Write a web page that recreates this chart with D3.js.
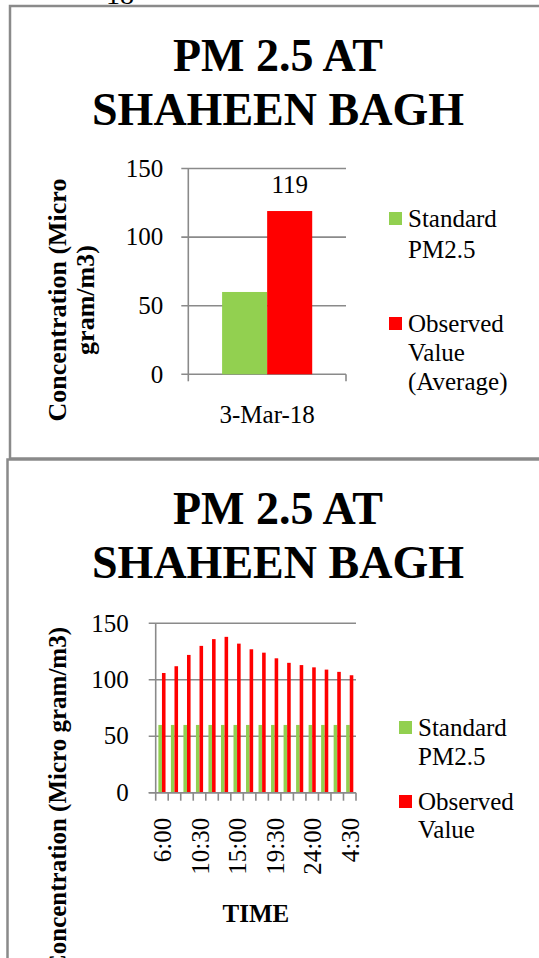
<!DOCTYPE html>
<html>
<head>
<meta charset="utf-8">
<script src="https://cdn.jsdelivr.net/npm/d3@7"></script>
<style>
  html, body { margin: 0; padding: 0; background: #fff; }
  svg { display: block; }
  text { font-family: "Liberation Serif", "Times New Roman", serif; fill: #000; }
</style>
</head>
<body>
<svg id="chart" width="539" height="958"></svg>
<script>
// ---------- data ----------
const titleLines = ["PM 2.5 AT", "SHAHEEN BAGH"];
const seriesNames = ["Standard", "Observed"];
const seriesColors = ["#92D050", "#FF0000"];
const yTicks = [0, 50, 100, 150];

// chart 1
const dateCategories = ["3-Mar-18"];
const dateStandard = [60];
const dateObserved = [119];
const dateObservedLabel = ["119"];
const legend1Standard = ["Standard", "PM2.5"];
const legend1Observed = ["Observed", "Value", "(Average)"];
const yTitle1 = ["Concentration (Micro", "gram/m3)"];

// chart 2
const timeCategories = ["6:00", "7:30", "9:00", "10:30", "12:00", "13:30", "15:00", "16:30",
                        "18:00", "19:30", "21:00", "22:30", "24:00", "1:30", "3:00", "4:30"];
const timeStandard = [60, 60, 60, 60, 60, 60, 60, 60, 60, 60, 60, 60, 60, 60, 60, 60];
const timeObserved = [106, 112, 122, 130, 136, 138, 132, 127, 124, 119, 115, 113, 111, 109, 107, 104];
const timeTickLabels = ["6:00", "10:30", "15:00", "19:30", "24:00", "4:30"];
const legend2Standard = ["Standard", "PM2.5"];
const legend2Observed = ["Observed", "Value"];
const yTitle2 = "Concentration (Micro gram/m3)";
const xTitle2 = "TIME";
const topFragment = "18";

// ---------- drawing ----------
const svg = d3.select("#chart");
const GRAY = "#8a8a8a";
const FS = 25;

// fragment of page text at very top (cut off, as in the source)
svg.append("text").attr("x", 106).attr("y", 4).style("font-size", "28px").text(topFragment);

// chart frames
svg.append("rect").attr("x", 10).attr("y", 6).attr("width", 560).attr("height", 452.5)
  .attr("fill", "none").attr("stroke", GRAY).attr("stroke-width", 2.5);
svg.append("rect").attr("x", 7.5).attr("y", 459.5).attr("width", 560).attr("height", 600)
  .attr("fill", "#fff").attr("stroke", GRAY).attr("stroke-width", 2.5);

function drawTitle(g, cx, y1, y2) {
  const t = g.append("text").attr("text-anchor", "middle")
    .style("font-size", "46px").style("font-weight", "bold");
  t.append("tspan").attr("x", cx).attr("y", y1).text(titleLines[0]);
  t.append("tspan").attr("x", cx).attr("y", y2).text(titleLines[1]);
}

function drawLegend(g, x, items) {
  items.forEach(it => {
    g.append("rect").attr("x", x).attr("y", it.y - 15).attr("width", 13).attr("height", 13)
      .attr("fill", it.color);
    const t = g.append("text").style("font-size", FS + "px");
    it.lines.forEach((ln, i) => {
      t.append("tspan").attr("x", x + 19).attr("y", it.y + i * it.lh).text(ln);
    });
  });
}

function drawYAxis(g, y, x0, x1, labelGap) {
  g.append("g").selectAll("line").data(yTicks).join("line")
    .attr("x1", x0 - 7).attr("x2", x1)
    .attr("y1", d => y(d)).attr("y2", d => y(d))
    .attr("stroke", GRAY).attr("stroke-width", 1.6);
  g.append("line").attr("x1", x0).attr("x2", x0)
    .attr("y1", y(0)).attr("y2", y(yTicks[yTicks.length - 1]))
    .attr("stroke", GRAY).attr("stroke-width", 1.6);
  g.append("g").selectAll("text").data(yTicks).join("text")
    .attr("x", x0 - labelGap).attr("y", d => y(d)).attr("dy", "0.33em")
    .attr("text-anchor", "end").style("font-size", FS + "px").text(d => d);
}

function drawXTicks(g, n, x0, x1, yBase, len) {
  const xl = d3.scaleLinear().domain([0, n]).range([x0, x1]);
  g.append("g").selectAll("line").data(d3.range(n + 1)).join("line")
    .attr("x1", d => xl(d)).attr("x2", d => xl(d))
    .attr("y1", yBase).attr("y2", yBase + len)
    .attr("stroke", GRAY).attr("stroke-width", 1.6);
}

// ===== Chart 1 =====
(function () {
  const g = svg.append("g");
  drawTitle(g, 278, 71, 125);
  const y = d3.scaleLinear().domain([0, 150]).range([374.3, 168.5]);
  const x0 = d3.scaleBand().domain(dateCategories).range([188.3, 346]);
  const x1 = d3.scaleBand().domain(seriesNames).range([0, x0.bandwidth()])
    .paddingInner(0).paddingOuter(0.75);

  drawYAxis(g, y, 188.3, 346, 25);
  drawXTicks(g, dateCategories.length, 188.3, 346, y(0), 7);

  const rows = dateCategories.map((c, i) => ({ c, vals: [dateStandard[i], dateObserved[i]] }));
  const grp = g.append("g").selectAll("g").data(rows).join("g")
    .attr("transform", d => `translate(${x0(d.c)},0)`);
  grp.selectAll("rect").data(d => d.vals.map((v, k) => ({ k, v }))).join("rect")
    .attr("x", d => x1(seriesNames[d.k])).attr("width", x1.bandwidth())
    .attr("y", d => y(d.v)).attr("height", d => y(0) - y(d.v))
    .attr("fill", d => seriesColors[d.k]);

  g.append("g").selectAll("text").data(dateCategories).join("text")
    .attr("x", (c) => x0(c) + x1(seriesNames[1]) + x1.bandwidth() / 2)
    .attr("y", (c, i) => y(dateObserved[i]) - 18)
    .attr("text-anchor", "middle").style("font-size", FS + "px")
    .text((c, i) => dateObservedLabel[i]);

  g.append("g").selectAll("text").data(dateCategories).join("text")
    .attr("x", c => x0(c) + x0.bandwidth() / 2).attr("y", y(0) + 49)
    .attr("text-anchor", "middle").style("font-size", FS + "px").text(c => c);

  const yt = g.append("text").attr("transform", "translate(66,300) rotate(-90)")
    .attr("text-anchor", "middle").style("font-size", "26px").style("font-weight", "bold");
  yt.append("tspan").attr("x", 0).attr("y", 0).text(yTitle1[0]);
  yt.append("tspan").attr("x", 0).attr("y", 28).text(yTitle1[1]);

  drawLegend(g, 389, [
    { color: seriesColors[0], lines: legend1Standard, y: 227, lh: 31 },
    { color: seriesColors[1], lines: legend1Observed, y: 332, lh: 29 }
  ]);
})();

// ===== Chart 2 =====
(function () {
  const g = svg.append("g");
  drawTitle(g, 278, 524, 578);
  const y = d3.scaleLinear().domain([0, 150]).range([792.7, 623.3]);
  const x0 = d3.scaleBand().domain(timeCategories).range([155.7, 356]);
  const x1 = d3.scaleBand().domain(seriesNames).range([0, x0.bandwidth()])
    .paddingInner(0).paddingOuter(0.75);

  drawYAxis(g, y, 155.7, 356, 27);

  const rows = timeCategories.map((c, i) => ({ c, vals: [timeStandard[i], timeObserved[i]] }));
  const grp = g.append("g").selectAll("g").data(rows).join("g")
    .attr("transform", d => `translate(${x0(d.c)},0)`);
  grp.selectAll("rect").data(d => d.vals.map((v, k) => ({ k, v }))).join("rect")
    .attr("x", d => x1(seriesNames[d.k])).attr("width", x1.bandwidth())
    .attr("y", d => y(d.v)).attr("height", d => y(0) - y(d.v))
    .attr("fill", d => seriesColors[d.k]);

  g.append("line").attr("x1", 155.7 - 7).attr("x2", 356).attr("y1", y(0)).attr("y2", y(0))
    .attr("stroke", GRAY).attr("stroke-width", 1.6);
  drawXTicks(g, timeCategories.length, 155.7, 356, y(0), 8);

  g.append("g").selectAll("text").data(timeTickLabels).join("text")
    .attr("transform", c => `translate(${x0(c) + x0.bandwidth() / 2 + 9},${y(0) + 25}) rotate(-90)`)
    .attr("text-anchor", "end").style("font-size", FS + "px").text(c => c);

  g.append("text").attr("x", (155.7 + 356) / 2).attr("y", 922)
    .attr("text-anchor", "middle").style("font-size", "25px").style("font-weight", "bold")
    .text(xTitle2);

  g.append("text").attr("transform", "translate(66,627) rotate(-90)")
    .attr("text-anchor", "end").style("font-size", "25px").style("font-weight", "bold")
    .text(yTitle2);

  drawLegend(g, 399, [
    { color: seriesColors[0], lines: legend2Standard, y: 736, lh: 29 },
    { color: seriesColors[1], lines: legend2Observed, y: 810, lh: 28 }
  ]);
})();
</script>
</body>
</html>
